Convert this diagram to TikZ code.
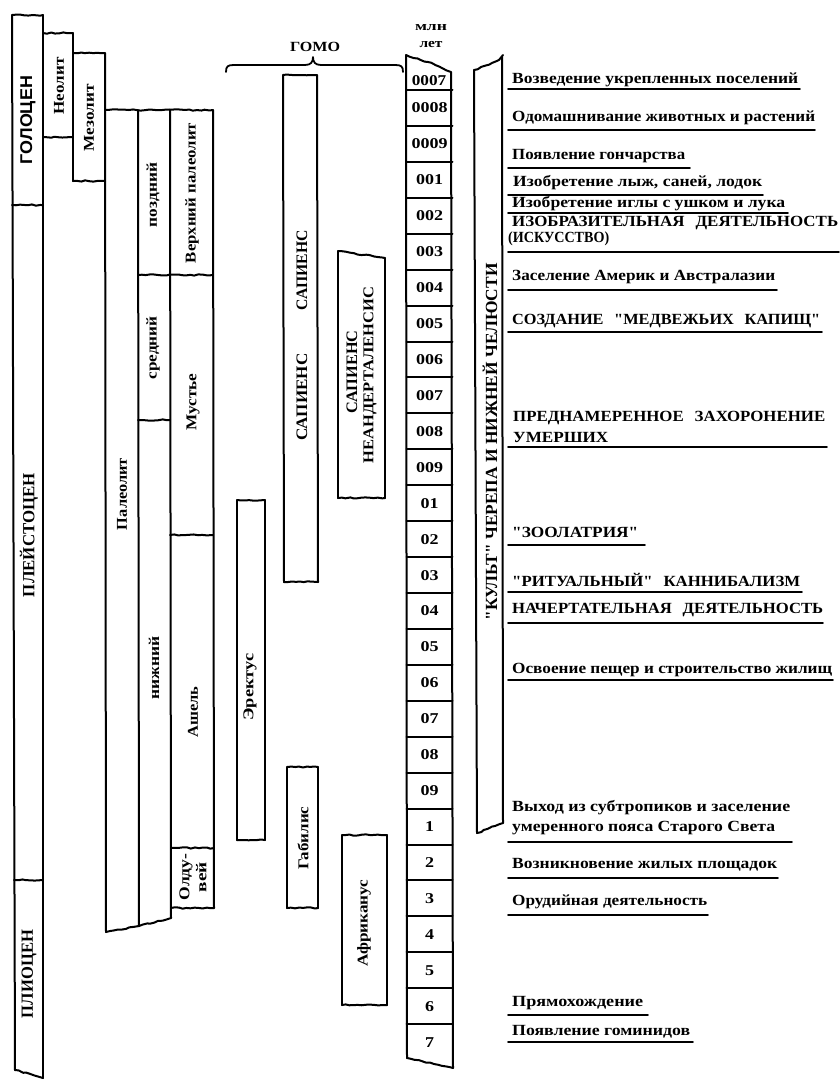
\documentclass[tikz,border=0pt]{standalone}
\usepackage{fontspec}
\setmainfont{Liberation Serif}
\newfontfamily\sansb{Liberation Sans}
\usetikzlibrary{decorations.pathmorphing}
\newcommand\fw[2]{\resizebox{#1pt}{\height}{#2}}
\newcommand\qq{\XeTeXglyph\XeTeXglyphindex "quotedbl"\relax}
\begin{document}
\begin{tikzpicture}[x=1pt,y=-1pt,line join=round,line cap=round,
  edge/.style={line width=2pt},
  wav/.style={decorate,decoration={random steps,segment length=4pt,amplitude=0.7pt}},
  uline/.style={line width=1.8pt},
  vlab/.style={rotate=90,inner sep=0pt,font=\bfseries\fontsize{15}{17}\selectfont},
  vcap/.style={rotate=90,inner sep=0pt,font=\bfseries\fontsize{16}{16}\selectfont},
  ev/.style={anchor=west,inner sep=0pt,font=\bfseries\fontsize{15.5}{16}\selectfont},
  evc/.style={anchor=west,inner sep=0pt,font=\bfseries\fontsize{15.5}{16}\selectfont},
  num/.style={inner sep=0pt,font=\bfseries\fontsize{15}{15}\selectfont},
  hlab/.style={inner sep=0pt,font=\bfseries\fontsize{14}{14}\selectfont}]
\pgfmathsetseed{3}
\useasboundingbox[fill=white] (0,0) rectangle (839,1080);

% ---- column 1: epochs
\draw[edge] (12,15) -- (15,1070);
\draw[edge] (43,15) -- (43,1078);
\draw[edge,wav] (12,15) -- (43,15);
\draw[edge,wav] (12,205) -- (43,205);
\draw[edge,wav] (14,880) -- (43,880);
\draw[edge,wav] (15,1070) -- (43,1078);
\node[vcap,font=\sansb\bfseries\fontsize{17}{17}\selectfont] (holocene) at (28,120) {\fw{88}{ГОЛОЦЕН}};
\node[vcap,font=\bfseries\fontsize{17}{17}\selectfont] (pleist) at (29,535) {\fw{124}{ПЛЕЙСТОЦЕН}};
\node[vcap,font=\bfseries\fontsize{17}{17}\selectfont] (plio) at (29,974) {\fw{88}{ПЛИОЦЕН}};

% ---- Neolithic / Mesolithic
\draw[edge,wav] (43,33) -- (73,33);
\draw[edge] (73,33) -- (73,181);
\draw[edge,wav] (43,137) -- (73,137);
\draw[edge,wav] (73,53) -- (105,53);
\draw[edge,wav] (73,181) -- (105,181);
\node[vlab] (neo) at (59,86) {\fw{57}{Неолит}};
\node[vlab] (meso) at (89,118) {\fw{67}{Мезолит}};

% ---- Palaeolithic group
\draw[edge] (105,53) -- (106,932);
\draw[edge,wav] (105,110) -- (213,110);
\draw[edge] (138,110) -- (139,926);
\draw[edge] (170,110) -- (171,918);
\draw[edge] (213,110) -- (214,908);
\draw[edge,wav] (138,275) -- (213,275);
\draw[edge,wav] (138,420) -- (170,420);
\draw[edge,wav] (170,535) -- (213,535);
\draw[edge,wav] (171,848) -- (214,848);
\draw[edge,wav] (171,908) -- (214,908);
\draw[edge,wav] (106,932) -- (139,926) -- (171,918);
\node[vlab] (paleo) at (122,494) {\fw{72}{Палеолит}};
\node[vlab] (late) at (153,195) {\fw{64}{поздний}};
\node[vlab] (mid) at (153,348) {\fw{63}{средний}};
\node[vlab] (low) at (154,668) {\fw{63}{нижний}};
\node[vlab] (upper) at (192,193) {\fw{140}{Верхний палеолит}};
\node[vlab] (must) at (193,402) {\fw{57}{Мустье}};
\node[vlab] (ashel) at (193,712) {\fw{51}{Ашель}};
\node[vlab,align=center] (olduv) at (193,877) {\fw{47}{Олду-}\\\fw{30}{вей}};

% ---- HOMO
\draw[line width=1.8pt] (226,72) .. controls (226,66) and (228,65) .. (234,65) -- (305,65)
  .. controls (311,65) and (313,62) .. (313,57) .. controls (313,62) and (315,65) .. (321,65)
  -- (395,65) .. controls (401,65) and (403,66) .. (403,72);
\node[hlab] (homo) at (315,47) {\fw{50}{ГОМО}};

% boxes
\draw[edge] (237,500) -- (237,840); \draw[edge] (265,500) -- (265,840);
\draw[edge,wav] (237,500) -- (265,500); \draw[edge,wav] (237,840) -- (265,840);
\node[vlab] (erect) at (250,687) {\fw{67}{Эректус}};

\draw[edge] (283,75) -- (284,582); \draw[edge] (317,75) -- (318,582);
\draw[edge,wav] (283,75) -- (317,75); \draw[edge,wav] (284,582) -- (318,582);
\node[vcap] (sap1) at (302,270) {\fw{80}{САПИЕНС}};
\node[vcap] (sap2) at (302,397) {\fw{87}{САПИЕНС}};

\draw[edge] (338,251) -- (338,498); \draw[edge] (385,258) -- (385,498);
\draw[edge,wav] (338,251) -- (385,258); \draw[edge,wav] (338,498) -- (385,498);
\node[vcap] (sap3) at (352,372) {\fw{83}{САПИЕНС}};
\node[vcap,font=\bfseries\fontsize{15}{15}\selectfont] (neand) at (370,375) {\fw{176}{НЕАНДЕРТАЛЕНСИС}};

\draw[edge] (287,767) -- (287,908); \draw[edge] (318,767) -- (318,908);
\draw[edge,wav] (287,767) -- (318,767); \draw[edge,wav] (287,908) -- (318,908);
\node[vlab] (habil) at (303,838) {\fw{63}{Габилис}};

\draw[edge] (342,835) -- (342,1005); \draw[edge] (387,835) -- (387,1005);
\draw[edge,wav] (342,835) -- (387,835); \draw[edge,wav] (342,1005) -- (387,1005);
\node[vlab] (afric) at (364,923) {\fw{87}{Африканус}};

% ---- time scale
\node[hlab,font=\bfseries\fontsize{13}{13}\selectfont] (mln) at (431,28) {\fw{32}{млн}};
\node[hlab,font=\bfseries\fontsize{13}{13}\selectfont] (let) at (431,45) {\fw{23}{лет}};
\draw[edge] (406,55) -- (407,1058);
\draw[edge] (451,72) -- (453,1068);
\draw[edge,wav] (406,55) -- (428,62) -- (451,72);
\draw[edge,wav] (407,1058) -- (453,1068);
\node[num] (c0007) at (429,81) {\scalebox{1.15}[1]{0007}};
\foreach \lab [count=\i from 0] in {0008,0009,001,002,003,004,005,006,007,008,009,01,02,03,04,05,06,07,08,09,1,2,3,4,5,6,7}{
  \pgfmathsetmacro\yt{90+\i*35.93}
  \draw[edge] (406.5,\yt) -- (452.5,\yt);
  \node[num] (c\i) at (429.5,\yt+18) {\scalebox{1.2}[1]{\lab}};
}

% ---- cult column
\draw[edge] (474,70) -- (477,833);
\draw[edge] (502,57) -- (503,823);
\draw[edge,wav] (474,70) -- (499,60);
\draw[edge] (499,60) -- (503,55);
\draw[edge,wav] (477,833) -- (503,823);
\node[vcap,font=\bfseries\fontsize{17}{17}\selectfont] (cult) at (490,442) {\fw{357}{\qq КУЛЬТ\qq{} ЧЕРЕПА И НИЖНЕЙ ЧЕЛЮСТИ}};

% ---- events
\node[ev] (e1) at (512,80) {\fw{286}{Возведение укрепленных поселений}};
\draw[uline] (508,89) -- (800,89);
\node[ev] (e2) at (512,118) {\fw{303}{Одомашнивание животных и растений}};
\draw[uline] (508,130) -- (815,130);
\node[ev] (e3) at (512,156) {\fw{173}{Появление гончарства}};
\draw[uline] (508,168) -- (690,168);
\node[ev] (e4) at (513,183) {\fw{249}{Изобретение лыж, саней, лодок}};
\draw[uline] (508,195) -- (763,195);
\node[ev] (e5) at (512,204) {\fw{273}{Изобретение иглы с ушком и лука}};
\draw[uline] (508,213) -- (788,213);
\node[evc] (e6a) at (512,223) {\fw{326}{ИЗОБРАЗИТЕЛЬНАЯ\hspace{0.4em} ДЕЯТЕЛЬНОСТЬ}};
\node[evc] (e6b) at (508,239) {\fw{101}{(ИСКУССТВО)}};
\draw[uline] (508,252) -- (839,252);
\node[ev] (e7) at (512,277) {\fw{263}{Заселение Америк и Австралазии}};
\draw[uline] (508,290) -- (777,290);
\node[evc] (e8) at (512,321) {\fw{308}{СОЗДАНИЕ\hspace{0.4em} \qq МЕДВЕЖЬИХ\hspace{0.4em} КАПИЩ\qq}};
\draw[uline] (508,332) -- (822,332);
\node[evc] (e9a) at (513,418) {\fw{312}{ПРЕДНАМЕРЕННОЕ\hspace{0.4em} ЗАХОРОНЕНИЕ}};
\node[evc] (e9b) at (513,437) {\fw{95}{УМЕРШИХ}};
\draw[uline] (508,447) -- (827,447);
\node[evc] (e10) at (512,532) {\fw{126}{\qq ЗООЛАТРИЯ\qq}};
\draw[uline] (508,545) -- (645,545);
\node[evc] (e11) at (512,580) {\fw{288}{\qq РИТУАЛЬНЫЙ\qq\hspace{0.4em} КАННИБАЛИЗМ}};
\draw[uline] (508,592) -- (802,592);
\node[evc] (e12) at (512,610) {\fw{311}{НАЧЕРТАТЕЛЬНАЯ\hspace{0.4em} ДЕЯТЕЛЬНОСТЬ}};
\draw[uline] (508,623) -- (823,623);
\node[ev] (e13) at (512,670) {\fw{320}{Освоение пещер и строительство жилищ}};
\draw[uline] (508,680) -- (833,680);
\node[ev] (e14a) at (512,808) {\fw{278}{Выход из субтропиков и заселение}};
\node[ev] (e14b) at (512,828) {\fw{263}{умеренного пояса Старого Света}};
\draw[uline] (508,842) -- (792,842);
\node[ev] (e15) at (512,865) {\fw{265}{Возникновение жилых площадок}};
\draw[uline] (508,878) -- (778,878);
\node[ev] (e16) at (512,902) {\fw{195}{Орудийная деятельность}};
\draw[uline] (508,915) -- (708,915);
\node[ev] (e17) at (512,1003) {\fw{131}{Прямохождение}};
\draw[uline] (508,1015) -- (648,1015);
\node[ev] (e18) at (512,1032) {\fw{178}{Появление гоминидов}};
\draw[uline] (508,1042) -- (693,1042);
\end{tikzpicture}
\end{document}
